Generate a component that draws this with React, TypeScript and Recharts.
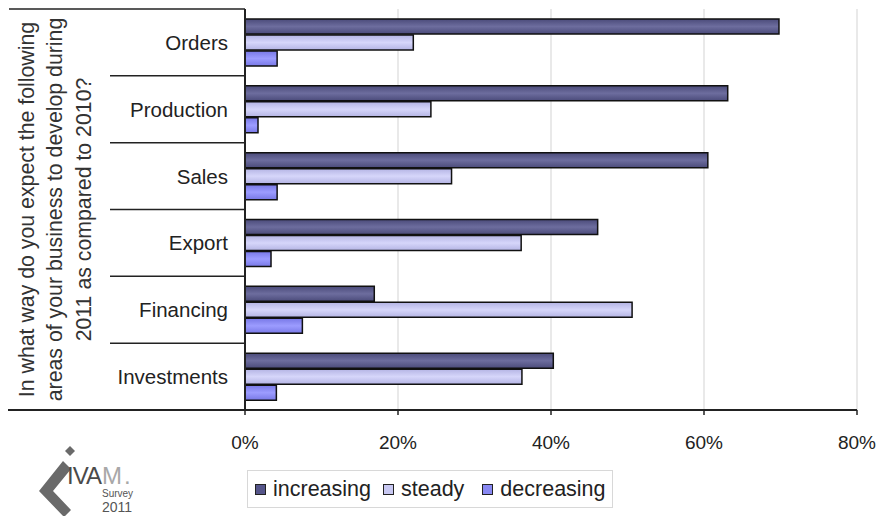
import { BarChart, Bar, XAxis, YAxis, CartesianGrid, Customized } from 'recharts';

// Survey answers, percent of respondents
const categories = ['Orders', 'Production', 'Sales', 'Export', 'Financing', 'Investments'];
const increasing = [69.8, 63.1, 60.5, 46.1, 16.9, 40.3];
const steady = [22.0, 24.3, 27.0, 36.1, 50.6, 36.2];
const decreasing = [4.2, 1.7, 4.2, 3.4, 7.5, 4.1];
const xTicks = [0, 20, 40, 60, 80];
const titleLines = [
  'In what way do you expect the following',
  'areas of your business to develop during',
  '2011 as compared to 2010?',
];

const data = categories.map((name, i) => ({
  name,
  increasing: increasing[i],
  steady: steady[i],
  decreasing: decreasing[i],
}));

const W = 877;
const H = 516;
const MARGIN = { top: 9, right: 20, bottom: 76, left: 0 };
const X_AXIS_H = 30;
const Y_AXIS_W = 245;
const PLOT_H = H - MARGIN.top - MARGIN.bottom - X_AXIS_H;
const BAND = PLOT_H / categories.length;
const FONT = '"Liberation Sans", Arial, sans-serif';

const SERIES = [
  { key: 'increasing', top: '#4b4b7a', mid: '#6d6d9e', legend: '#55558a', gap: 12 },
  { key: 'steady', top: '#b4b4e4', mid: '#d6d6fa', legend: '#c8c8f2', gap: 18 },
  { key: 'decreasing', top: '#7878e6', mid: '#9c9cff', legend: '#8888f2', gap: 0 },
];

// category label plus the separator lines of the left frame
const CategoryTick = (props: any) => {
  const { y, payload, index } = props;
  const top = y - BAND / 2;
  return (
    <g>
      <text x={Y_AXIS_W - 17} y={y} textAnchor="end" dominantBaseline="central" fontSize={20.5} fill="#222" fontFamily={FONT}>
        {payload.value}
      </text>
      <line x1={index === 0 ? 9 : 110} x2={Y_AXIS_W} y1={top} y2={top} stroke="#222" strokeWidth={1.5} />
      {index === categories.length - 1 && (
        <line x1={8} x2={Y_AXIS_W} y1={y + BAND / 2} y2={y + BAND / 2} stroke="#222" strokeWidth={2} />
      )}
    </g>
  );
};

const PercentTick = (props: any) => {
  const { x, y, payload } = props;
  return (
    <text x={x} y={y + 32} textAnchor="middle" fontSize={19} fill="#222" fontFamily={FONT}>
      {`${payload.value}%`}
    </text>
  );
};

// rotated question on the outer axis level
const AxisTitle = () => {
  const cy = MARGIN.top + PLOT_H / 2;
  return (
    <g>
      {titleLines.map((line, i) => {
        const cx = 26.5 + i * 28.5;
        return (
          <text
            key={i}
            x={cx}
            y={cy}
            transform={`rotate(-90 ${cx} ${cy})`}
            textAnchor="middle"
            dominantBaseline="central"
            fontSize={21.3}
            fill="#333"
            fontFamily={FONT}
          >
            {line}
          </text>
        );
      })}
    </g>
  );
};

const ChartLegend = () => (
  <div
    style={{
      position: 'absolute',
      left: 247,
      top: 470,
      width: 357,
      height: 36,
      display: 'flex',
      alignItems: 'center',
      border: '1px solid #d8d8d8',
      paddingLeft: 7,
      fontFamily: FONT,
      fontSize: 21.5,
      color: '#222',
      background: '#fff',
    }}
  >
    {SERIES.map((s) => (
      <div key={s.key} style={{ display: 'flex', alignItems: 'center', marginRight: s.gap }}>
        <span style={{ width: 9, height: 9, background: s.legend, border: '1.5px solid #222', marginRight: 7, display: 'inline-block' }} />
        <span>{s.key}</span>
      </div>
    ))}
  </div>
);

const Logo = () => (
  <svg width={160} height={76} style={{ position: 'absolute', left: 0, top: 440 }}>
    <polygon points="70,6 75,11 70,16 65,11" fill="#6a6a6a" />
    <polygon points="63,21 71,29 53,51 71,70 64,77 39,51" fill="#6a6a6a" />
    <text x={67} y={44} fontSize={24} letterSpacing={-1} fontFamily={FONT}>
      <tspan fill="#4a4a4a">IVA</tspan>
      <tspan fill="#a8a8a8" dx={1}>M</tspan>
      <tspan fill="#a8a8a8" dx={3}>.</tspan>
    </text>
    <text x={102} y={57} fontSize={10} fill="#555" fontFamily={FONT}>Survey</text>
    <text x={102} y={72} fontSize={14} fill="#555" fontFamily={FONT}>2011</text>
  </svg>
);

export default function App() {
  return (
    <div style={{ position: 'fixed', left: 0, top: 0, width: W, height: H, background: '#fff' }}>
      <BarChart
        width={W}
        height={H}
        data={data}
        layout="vertical"
        margin={MARGIN}
        barCategoryGap="15%"
        barGap={1}
      >
        <defs>
          {SERIES.map((s) => (
            <linearGradient key={s.key} id={`grad-${s.key}`} x1="0" y1="0" x2="0" y2="1">
              <stop offset="0%" stopColor={s.top} />
              <stop offset="50%" stopColor={s.mid} />
              <stop offset="100%" stopColor={s.top} />
            </linearGradient>
          ))}
        </defs>
        <CartesianGrid horizontal={false} stroke="#e2e2e2" strokeWidth={1.5} />
        <XAxis
          type="number"
          domain={[0, 80]}
          ticks={xTicks}
          interval={0}
          height={X_AXIS_H}
          axisLine={{ stroke: '#222', strokeWidth: 2 }}
          tickLine={{ stroke: '#222', strokeWidth: 1.5 }}
          tickSize={5}
          tick={<PercentTick />}
        />
        <YAxis
          type="category"
          dataKey="name"
          width={Y_AXIS_W}
          interval={0}
          axisLine={{ stroke: '#222', strokeWidth: 2 }}
          tickLine={false}
          tick={<CategoryTick />}
        />
        {SERIES.map((s) => (
          <Bar
            key={s.key}
            dataKey={s.key}
            fill={`url(#grad-${s.key})`}
            stroke="#111"
            strokeWidth={1.5}
            barSize={15}
            isAnimationActive={false}
          />
        ))}
        <Customized component={AxisTitle} />
      </BarChart>
      <ChartLegend />
      <Logo />
    </div>
  );
}
